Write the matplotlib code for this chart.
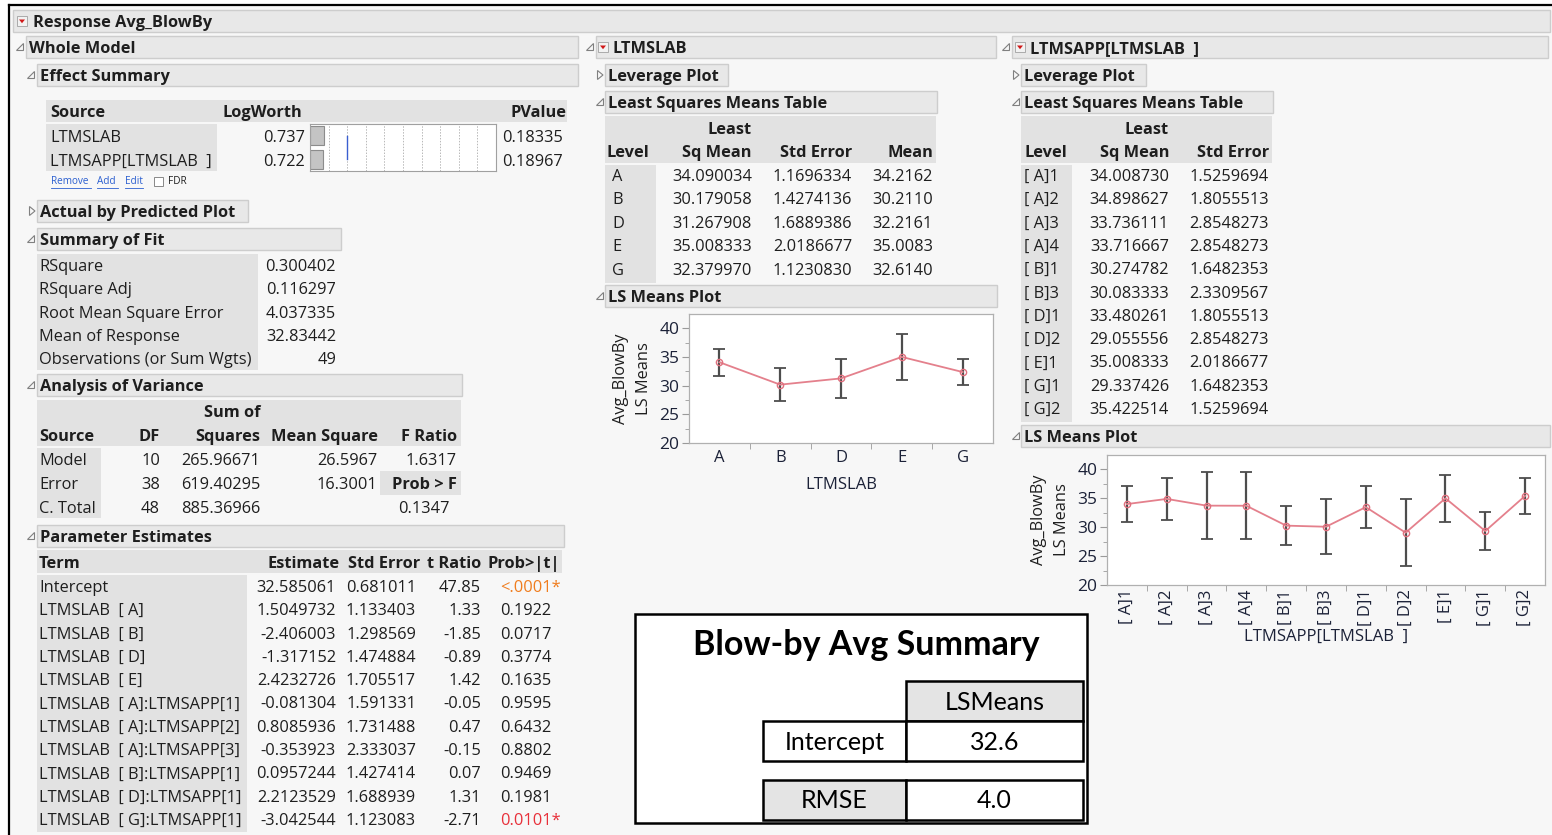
import numpy as np
import matplotlib
matplotlib.use("Agg")
import matplotlib.pyplot as plt
from matplotlib.patches import Rectangle, Polygon

# ---------------- data ----------------
es_source = ["LTMSLAB", "LTMSAPP[LTMSLAB  ]"]
es_logworth = [0.737, 0.722]
es_pvalue = ["0.18335", "0.18967"]

fit_labels = ["RSquare", "RSquare Adj", "Root Mean Square Error",
              "Mean of Response", "Observations (or Sum Wgts)"]
fit_values = ["0.300402", "0.116297", "4.037335", "32.83442", "49"]

aov_source = ["Model", "Error", "C. Total"]
aov_df = ["10", "38", "48"]
aov_ss = ["265.96671", "619.40295", "885.36966"]
aov_ms = ["26.5967", "16.3001", ""]
aov_f = "1.6317"
aov_p = "0.1347"

pe_terms = ["Intercept", "LTMSLAB  [ A]", "LTMSLAB  [ B]", "LTMSLAB  [ D]",
            "LTMSLAB  [ E]", "LTMSLAB  [ A]:LTMSAPP[1]", "LTMSLAB  [ A]:LTMSAPP[2]",
            "LTMSLAB  [ A]:LTMSAPP[3]", "LTMSLAB  [ B]:LTMSAPP[1]",
            "LTMSLAB  [ D]:LTMSAPP[1]", "LTMSLAB  [ G]:LTMSAPP[1]"]
pe_estimate = ["32.585061", "1.5049732", "-2.406003", "-1.317152", "2.4232726",
               "-0.081304", "0.8085936", "-0.353923", "0.0957244", "2.2123529",
               "-3.042544"]
pe_stderr = ["0.681011", "1.133403", "1.298569", "1.474884", "1.705517",
             "1.591331", "1.731488", "2.333037", "1.427414", "1.688939", "1.123083"]
pe_tratio = ["47.85", "1.33", "-1.85", "-0.89", "1.42", "-0.05", "0.47",
             "-0.15", "0.07", "1.31", "-2.71"]
pe_prob = ["<.0001*", "0.1922", "0.0717", "0.3774", "0.1635", "0.9595",
           "0.6432", "0.8802", "0.9469", "0.1981", "0.0101*"]

lab_levels = ["A", "B", "D", "E", "G"]
lab_lsmean = [34.090034, 30.179058, 31.267908, 35.008333, 32.379970]
lab_stderr = [1.1696334, 1.4274136, 1.6889386, 2.0186677, 1.1230830]
lab_mean = [34.2162, 30.2110, 32.2161, 35.0083, 32.6140]
lab_ci = [2.37, 2.89, 3.42, 4.09, 2.27]

app_levels = ["[ A]1", "[ A]2", "[ A]3", "[ A]4", "[ B]1", "[ B]3",
              "[ D]1", "[ D]2", "[ E]1", "[ G]1", "[ G]2"]
app_lsmean = [34.008730, 34.898627, 33.736111, 33.716667, 30.274782, 30.083333,
              33.480261, 29.055556, 35.008333, 29.337426, 35.422514]
app_stderr = [1.5259694, 1.8055513, 2.8548273, 2.8548273, 1.6482353, 2.3309567,
              1.8055513, 2.8548273, 2.0186677, 1.6482353, 1.5259694]
app_ci = [3.09, 3.65, 5.78, 5.78, 3.34, 4.72, 3.65, 5.78, 4.09, 3.34, 3.09]

summary_rows = ["Intercept", "RMSE"]
summary_vals = ["32.6", "4.0"]

# ---------------- page setup ----------------
plt.rcParams['font.family'] = ['Open Sans', 'DejaVu Sans']
W, H = 1552, 835
fig = plt.figure(figsize=(15.52, 8.35), dpi=100, facecolor='white')
bg = fig.add_axes([0, 0, 1, 1])
bg.set_xlim(0, W)
bg.set_ylim(H, 0)
bg.axis('off')

BODY = 11.8
TXT = '#1e1e1e'
AXTXT = '#1c2238'
HEAD_BG = '#e8e8e8'
CELL_BG = '#e2e2e2'
BOX_FONT = ['Lato', 'DejaVu Sans']


def rect(x0, y0, x1, y1, fc, ec='none', lw=1.0, z=1):
    bg.add_patch(Rectangle((x0, y0), x1 - x0, y1 - y0, facecolor=fc,
                           edgecolor=ec, linewidth=lw, zorder=z))


def T(x, y, s, ha='left', size=BODY, bold=False, color=TXT, z=5, **kw):
    bg.text(x, y + 2, s, ha=ha, va='center', fontsize=size,
            fontweight='bold' if bold else 'normal', color=color, zorder=z, **kw)


def open_tri(x, y):
    bg.add_patch(Polygon([(x - 3.5, y + 3.5), (x + 3.5, y + 3.5), (x + 3.5, y - 3.5)],
                         closed=True, fill=False, edgecolor='#808080', lw=0.8, zorder=4))


def closed_tri(x, y):
    bg.add_patch(Polygon([(x - 2.5, y - 4.5), (x - 2.5, y + 4.5), (x + 3, y)],
                         closed=True, fill=False, edgecolor='#808080', lw=0.8, zorder=4))


def red_icon(x, y):
    rect(x - 5, y - 5, x + 5, y + 5, fc='#f2f2f2', ec='#a0a0a0', lw=0.6, z=4)
    bg.add_patch(Polygon([(x - 3, y - 1.5), (x + 3, y - 1.5), (x, y + 2.2)],
                         closed=True, facecolor='#d01818', edgecolor='none', zorder=5))


def header(x0, x1, yc, label, tx=None):
    rect(x0, yc - 11, x1, yc + 11, fc=HEAD_BG, ec='#cdcdcd', lw=1, z=2)
    T(x0 + 3 if tx is None else tx, yc, label, bold=True)


# page background and outer frame
rect(9, 5, W, H, fc='#f7f7f7', z=0)
bg.plot([9, W], [5, 5], color='black', lw=1.6, zorder=6)
bg.plot([9, 9], [5, H], color='black', lw=1.6, zorder=6)

# top bar
header(13, 1550, 21, "Response Avg_BlowBy", tx=33)
red_icon(22, 21)

# ---------------- left column ----------------
header(26, 578, 47, "Whole Model")
open_tri(20, 47)
header(37, 578, 75, "Effect Summary")
open_tri(31, 75)

# effect summary table
rect(46, 100, 567, 122, fc=CELL_BG)
rect(46, 124, 217, 171, fc=CELL_BG)
T(50, 111, "Source", bold=True)
T(222, 111, "LogWorth", bold=True)
T(566, 111, "PValue", ha='right', bold=True)
for i, (s, lw_, p) in enumerate(zip(es_source, es_logworth, es_pvalue)):
    yc = 136 + i * 24
    T(50, yc, s)
    T(305, yc, f"{lw_:.3f}", ha='right')
    T(563, yc, p, ha='right')

ax_es = fig.add_axes([310 / W, 1 - 171 / H, (496 - 310) / W, (171 - 124) / H])
ax_es.set_facecolor('white')
ax_es.barh(range(len(es_logworth)), es_logworth, height=0.82,
           color='#c4c4c4', edgecolor='#8c8c8c', linewidth=0.8, zorder=2)
for g in range(1, 10):
    ax_es.axvline(g, color='#b8b8b8', lw=0.7, ls=(0, (1.5, 1.5)), zorder=1)
ax_es.plot([2, 2], [0, 1], color='#3a5fd0', lw=1.0, zorder=3)
ax_es.set_xlim(0, 10)
ax_es.set_ylim(1.5, -0.5)
ax_es.set_xticks([])
ax_es.set_yticks([])
for sp in ax_es.spines.values():
    sp.set_color('#a0a0a0')
    sp.set_linewidth(0.8)

# remove/add/edit links
for x0, x1, s in [(51, 91, "Remove"), (97, 118, "Add"), (125, 143, "Edit")]:
    bg.text(x0, 182, s, ha='left', va='center', fontsize=7.2, color='#2b5fd0', zorder=5)
    bg.plot([x0, x1], [188, 188], color='#2b5fd0', lw=0.6, zorder=5)
rect(154, 177, 163, 186, fc='white', ec='#888888', lw=0.7, z=4)
bg.text(168, 182, "FDR", ha='left', va='center', fontsize=7.2, color=TXT, zorder=5)

header(37, 248, 211, "Actual by Predicted Plot")
closed_tri(32, 211)
header(37, 341, 239, "Summary of Fit")
open_tri(31, 239)

rect(37, 254, 258, 370, fc=CELL_BG)
for i, (lab, v) in enumerate(zip(fit_labels, fit_values)):
    yc = 265 + i * 23.3
    T(39, yc, lab)
    T(336, yc, v, ha='right')

header(37, 462, 385, "Analysis of Variance")
open_tri(31, 385)
rect(37, 400, 461, 446, fc=CELL_BG)
rect(37, 448, 101, 518, fc=CELL_BG)
T(260, 411, "Sum of", ha='right', bold=True)
T(39, 435, "Source", bold=True)
T(160, 435, "DF", ha='right', bold=True)
T(260, 435, "Squares", ha='right', bold=True)
T(378, 435, "Mean Square", ha='right', bold=True)
T(457, 435, "F Ratio", ha='right', bold=True)
for i in range(len(aov_source)):
    yc = 459 + i * 23.8
    T(39, yc, aov_source[i])
    T(160, yc, aov_df[i], ha='right')
    T(260, yc, aov_ss[i], ha='right')
    T(377, yc, aov_ms[i], ha='right')
T(457, 459, aov_f, ha='right')
rect(380, 471, 461, 495, fc=CELL_BG)
T(457, 483, "Prob > F", ha='right', bold=True)
T(450, 507, aov_p, ha='right')

header(37, 564, 536, "Parameter Estimates")
open_tri(31, 536)
rect(37, 550, 562, 573, fc=CELL_BG)
rect(37, 575, 247, 832, fc=CELL_BG)
T(39, 562, "Term", bold=True)
T(340, 562, "Estimate", ha='right', bold=True)
T(420, 562, "Std Error", ha='right', bold=True)
T(481, 562, "t Ratio", ha='right', bold=True)
T(560, 562, "Prob>|t|", ha='right', bold=True)
for i in range(len(pe_terms)):
    yc = 586 + i * 23.3
    T(39, yc, pe_terms[i])
    T(336, yc, pe_estimate[i], ha='right')
    T(416, yc, pe_stderr[i], ha='right')
    T(481, yc, pe_tratio[i], ha='right')
    col = TXT
    if pe_prob[i].endswith('*'):
        col = '#f07d1e' if pe_prob[i].startswith('<') else '#e8303a'
    T(500, yc, pe_prob[i], color=col)

# ---------------- middle column ----------------
open_tri(590, 47)
header(596, 996, 47, "LTMSLAB", tx=612)
red_icon(603, 47)
header(605, 728, 75, "Leverage Plot")
closed_tri(600, 75)
header(605, 937, 102, "Least Squares Means Table")
open_tri(600, 102)

rect(605, 116, 936, 163, fc=CELL_BG)
rect(605, 165, 656, 283, fc=CELL_BG)
T(752, 128, "Least", ha='right', bold=True)
T(607, 151, "Level", bold=True)
T(752, 151, "Sq Mean", ha='right', bold=True)
T(852, 151, "Std Error", ha='right', bold=True)
T(933, 151, "Mean", ha='right', bold=True)
for i in range(len(lab_levels)):
    yc = 175 + i * 23.4
    T(612, yc, lab_levels[i])
    T(752, yc, f"{lab_lsmean[i]:.6f}", ha='right')
    T(852, yc, f"{lab_stderr[i]:.7f}", ha='right')
    T(933, yc, f"{lab_mean[i]:.4f}", ha='right')

header(605, 997, 296, "LS Means Plot")
open_tri(600, 296)

# ---------------- right column ----------------
open_tri(1006, 47)
header(1012, 1548, 47, "LTMSAPP[LTMSLAB  ]", tx=1030)
red_icon(1020, 47)
header(1021, 1146, 75, "Leverage Plot")
closed_tri(1016, 75)
header(1021, 1273, 102, "Least Squares Means Table")
open_tri(1016, 102)

rect(1021, 116, 1272, 163, fc=CELL_BG)
rect(1021, 165, 1072, 422, fc=CELL_BG)
T(1169, 128, "Least", ha='right', bold=True)
T(1024, 151, "Level", bold=True)
T(1169, 151, "Sq Mean", ha='right', bold=True)
T(1269, 151, "Std Error", ha='right', bold=True)
for i in range(len(app_levels)):
    yc = 175 + i * 23.3
    T(1024, yc, app_levels[i])
    T(1169, yc, f"{app_lsmean[i]:.6f}", ha='right')
    T(1269, yc, f"{app_stderr[i]:.7f}", ha='right')

header(1021, 1550, 436, "LS Means Plot")
open_tri(1016, 436)


# ---------------- LS means plots ----------------
def lsm_plot(px, levels, means, ci, xlabel, rot):
    x0, y0, x1, y1 = px
    ax = fig.add_axes([x0 / W, 1 - y1 / H, (x1 - x0) / W, (y1 - y0) / H])
    ax.set_facecolor('white')
    pos = np.arange(len(levels))
    ax.errorbar(pos, means, yerr=ci, fmt='none', ecolor='#4d4d4d',
                elinewidth=1.6, capsize=4.5, capthick=1.3, zorder=2)
    ax.plot(pos, means, color='#e4808c', lw=1.3, marker='o', ms=4.5,
            mfc='none', mec='#e0707e', mew=1.0, zorder=3)
    ax.set_xlim(-0.5, len(levels) - 0.5)
    ax.set_ylim(20, 42.5)
    ax.set_yticks([20, 25, 30, 35, 40])
    ax.set_yticks([22.5, 27.5, 32.5, 37.5], minor=True)
    ax.set_xticks(pos)
    ax.set_xticklabels(levels, rotation=rot)
    ax.set_xticks(pos[:-1] + 0.5, minor=True)
    ax.tick_params(axis='x', which='major', length=0, pad=5 if rot == 0 else 3,
                   labelsize=12, labelcolor=AXTXT)
    ax.tick_params(axis='x', which='minor', length=4, color='#9a9a9a')
    ax.tick_params(axis='y', which='major', length=5, color='#9a9a9a', pad=2,
                   labelsize=12.5, labelcolor=AXTXT)
    ax.tick_params(axis='y', which='minor', length=3, color='#9a9a9a')
    for sp in ax.spines.values():
        sp.set_color('#b0b0b0')
        sp.set_linewidth(0.9)
    ax.set_ylabel("Avg_BlowBy\nLS Means", fontsize=11.8, color=TXT,
                  linespacing=1.6, labelpad=5)
    ax.set_xlabel(xlabel, fontsize=12, color=AXTXT,
                  labelpad=8 if rot == 0 else 2)
    return ax


lsm_plot((689, 314, 993, 443), lab_levels, lab_lsmean, lab_ci, "LTMSLAB", 0)
lsm_plot((1107, 455, 1545, 585), app_levels, app_lsmean, app_ci,
         "LTMSAPP[LTMSLAB  ]", 90)

# ---------------- summary box ----------------
rect(635, 614, 1087, 823, fc='white', ec='black', lw=1.8, z=3)
bg.text(866, 645, "Blow-by Avg Summary", ha='center', va='center',
        fontsize=24.5, fontweight='bold', family=BOX_FONT,
        color='black', zorder=6)
rect(906, 681, 1083, 721, fc='#e4e4e4', ec='black', lw=1.8, z=4)
bg.text(994.5, 703, "LSMeans", ha='center', va='center', fontsize=18,
        family=BOX_FONT, color='black', zorder=6)
row_y = [(721, 761), (780, 820)]
row_fc = ['white', '#e4e4e4']
for (ya, yb), lab, val, fc in zip(row_y, summary_rows, summary_vals, row_fc):
    rect(763, ya, 906, yb, fc=fc, ec='black', lw=1.8, z=4)
    rect(906, ya, 1083, yb, fc='white', ec='black', lw=1.8, z=4)
    bg.text(834.5, (ya + yb) / 2 + 1, lab, ha='center', va='center', fontsize=18,
            family=BOX_FONT, color='black', zorder=6)
    bg.text(994.5, (ya + yb) / 2 + 1, val, ha='center', va='center', fontsize=18,
            family=BOX_FONT, color='black', zorder=6)

fig.savefig("out.png", dpi=100, facecolor=fig.get_facecolor())
